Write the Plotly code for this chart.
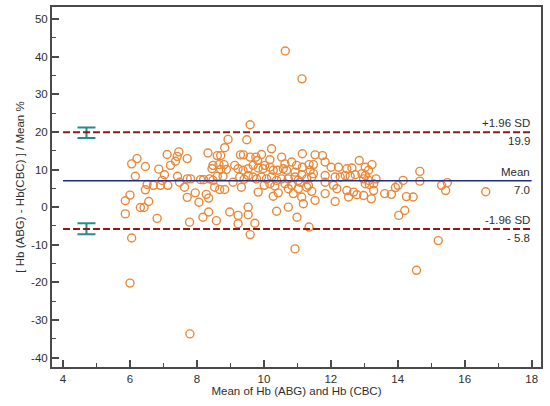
import plotly.graph_objects as go

# Bland-Altman: mean of Hb (ABG) and Hb (CBC) vs % difference
mean_hb = [
    6.05, 6.21, 6.16, 6.46, 6.0, 5.86, 5.86, 6.05, 6.31, 6.42, 6.56, 6.46, 6.51, 6.7, 6.91,
    7.13, 6.96, 7.03, 6.86, 7.21, 7.11, 7.36, 7.41, 7.46, 7.71, 7.42, 7.48, 7.63, 7.71, 7.81,
    7.71, 7.95, 8.06, 6.81, 7.78, 8.18, 8.11, 8.2, 6.0, 7.79,
    9.59, 9.49, 8.93, 8.83, 8.33, 8.61, 8.71, 9.30, 9.39, 9.59, 9.76, 9.93, 10.23, 10.53, 10.18,
    9.81, 8.48, 8.66, 8.81, 8.45, 8.71, 8.88, 9.13, 9.23, 9.38, 9.53, 9.68, 9.83, 9.98, 10.03,
    10.18, 10.28, 10.41, 10.58, 8.38, 8.48, 8.61, 8.78, 9.08, 9.28, 9.41, 9.53, 9.68, 9.78, 9.93,
    10.08, 10.23, 10.38, 10.53, 8.53, 8.68, 8.83, 8.28, 8.35, 9.33, 9.83, 10.01, 10.18, 10.33, 10.28,
    10.43, 8.35, 8.58, 8.98, 9.23, 9.23, 9.53, 9.53, 9.73, 9.59, 10.38,
    10.93, 11.35, 10.99, 10.73, 11.15, 11.53, 11.75, 10.63, 10.83, 10.98, 11.15, 11.35, 11.48, 11.83, 12.01,
    12.23, 12.48, 12.63, 12.85, 13.03, 10.68, 10.93, 11.13, 11.38, 11.48, 10.93, 10.73, 11.03, 11.28, 11.43,
    11.83, 12.13, 12.28, 12.43, 12.58, 12.73, 12.93, 13.03, 10.63, 10.83, 11.08, 11.33, 10.73, 11.03, 11.28,
    11.43, 10.88, 11.13, 11.18, 11.53, 11.83, 12.08, 12.18, 11.83, 12.13, 12.48, 12.53, 12.78, 12.98, 12.68,
    13.23, 13.13, 12.98, 13.13, 13.35, 13.03, 13.15, 13.28, 13.28, 13.21, 13.61, 13.81, 13.93, 14.01, 14.16,
    14.26, 14.46, 14.21, 14.03, 14.66, 14.66, 15.31, 15.48, 15.43, 16.63, 15.21, 14.56,
    10.64, 11.14,
]
diff_pct = [
    11.5, 12.9, 8.2, 10.8, 3.2, 1.7, -1.8, -8.2, -0.1, -0.1, 1.5, 4.6, 6.0, 5.8, 5.8,
    5.8, 7.1, 8.6, 10.1, 11.1, 14.0, 12.2, 13.5, 14.7, 12.9, 8.2, 6.6, 5.3, 7.5, 7.5,
    2.6, 3.8, 1.3, -3.0, -4.0, -2.7, 7.3, 7.3, -20.2, -33.7,
    21.9, 17.9, 18.0, 15.8, 14.4, 13.7, 13.7, 13.9, 13.9, 13.3, 13.3, 14.0, 15.5, 13.3, 12.6,
    12.4, 11.1, 11.3, 11.3, 10.2, 10.0, 10.0, 11.1, 10.2, 9.8, 10.2, 11.1, 10.4, 10.2, 11.1,
    10.6, 9.8, 9.8, 10.2, 7.5, 7.1, 8.2, 8.2, 6.6, 8.0, 7.4, 8.4, 8.0, 7.5, 8.0,
    7.5, 8.0, 7.1, 7.5, 5.3, 4.7, 4.7, 3.4, 2.4, 5.3, 4.0, 5.8, 6.2, 5.6, 2.9,
    3.8, -1.3, -3.6, -1.3, -2.2, -4.4, 0.0, -2.0, -4.3, -7.3, -1.1,
    -11.1, -5.3, -2.7, 0.0, 14.2, 13.9, 13.7, 11.5, 12.0, 11.1, 10.6, 11.3, 11.3, 12.0, 10.6,
    10.6, 10.2, 10.4, 12.4, 10.6, 9.8, 9.3, 8.6, 9.8, 8.9, 8.0, 7.5, 7.1, 7.5, 8.0,
    8.4, 8.0, 8.0, 8.4, 8.2, 8.6, 8.9, 8.4, 6.2, 5.8, 6.6, 5.8, 4.9, 4.9, 5.3,
    4.2, 3.6, 2.7, 0.9, 1.8, 6.6, 5.8, 4.9, 3.6, 1.5, 4.4, 2.7, 3.3, 3.1, 4.0,
    11.3, 9.8, 7.5, 7.1, 7.5, 6.2, 6.0, 6.2, 4.4, 2.2, 3.6, 3.4, 5.2, 5.8, 7.1,
    2.8, 2.7, -0.9, -2.2, 9.5, 6.9, 5.8, 6.5, 4.4, 4.1, -8.9, -16.8,
    41.5, 34.1,
]

bias = 7.0
upper_loa = 19.9
lower_loa = -5.8
# confidence intervals of the limits of agreement
upper_ci = [18.4, 21.2]
lower_ci = [-7.2, -4.3]
ci_x = 4.7

y_ticks = [-40, -30, -20, -10, 0, 10, 20, 30, 40, 50]
x_ticks = [4, 6, 8, 10, 12, 14, 16, 18]

text_col = "#2e2e2e"
axis_col = "#4a4a4a"
red = "#8b1a1a"
navy = "#232a8c"
teal = "#2a8a88"

fig = go.Figure()

fig.add_trace(go.Scatter(
    x=mean_hb, y=diff_pct, mode="markers",
    marker=dict(symbol="circle-open", size=8, color="#e8893a", line=dict(width=1.4)),
    showlegend=False,
))

# CI error bars on the limits
for lo, hi in [upper_ci, lower_ci]:
    mid = (lo + hi) / 2
    fig.add_trace(go.Scatter(
        x=[ci_x], y=[mid], mode="markers",
        marker=dict(size=1, color="rgba(0,0,0,0)"),
        error_y=dict(type="data", symmetric=False, array=[hi - mid], arrayminus=[mid - lo],
                     color=teal, thickness=2, width=9),
        showlegend=False,
    ))

fig.add_shape(type="line", x0=4, x1=18, y0=upper_loa, y1=upper_loa,
              line=dict(color=red, width=2, dash="7px,3px"))
fig.add_shape(type="line", x0=4, x1=18, y0=lower_loa, y1=lower_loa,
              line=dict(color=red, width=2, dash="7px,3px"))
fig.add_shape(type="line", x0=4, x1=18, y0=bias, y1=bias,
              line=dict(color=navy, width=1.6))

labels = [
    (upper_loa, "+1.96 SD", "%.1f" % upper_loa),
    (bias, "Mean", "%.1f" % bias),
    (lower_loa, "-1.96 SD", "- %.1f" % abs(lower_loa)),
]
for yv, above, below in labels:
    fig.add_annotation(x=18, y=yv, text=above, showarrow=False, xanchor="right",
                       yanchor="bottom", yshift=1, font=dict(size=11.5, color=text_col))
    fig.add_annotation(x=18, y=yv, text=below, showarrow=False, xanchor="right",
                       yanchor="top", yshift=-1, font=dict(size=11.5, color=text_col))

fig.update_xaxes(
    range=[3.67, 18.28], tickvals=x_ticks, ticktext=[str(v) for v in x_ticks],
    showgrid=False, zeroline=False, showline=True, linecolor=axis_col, linewidth=2, mirror=True,
    ticks="inside", ticklen=7, tickwidth=1.5, tickcolor=axis_col,
    minor=dict(ticks="inside", ticklen=4, tickwidth=1.2, tickcolor=axis_col, dtick=1, tick0=0),
    tickfont=dict(size=11.5, color=text_col), automargin=False,
    title=dict(text="Mean of Hb (ABG) and Hb (CBC)", font=dict(size=11.5, color=text_col), standoff=3),
)
fig.update_yaxes(
    range=[-42.5, 53.2], tickvals=y_ticks, ticktext=[str(v) for v in y_ticks],
    showgrid=False, zeroline=False, showline=True, linecolor=axis_col, linewidth=2, mirror=True,
    ticks="inside", ticklen=7, tickwidth=1.5, tickcolor=axis_col,
    minor=dict(ticks="inside", ticklen=4, tickwidth=1.2, tickcolor=axis_col, dtick=5, tick0=0),
    tickfont=dict(size=11.5, color=text_col), automargin=False,
    title=dict(text="[ Hb (ABG) - Hb(CBC) ] / Mean %", font=dict(size=11.5, color=text_col), standoff=4),
)

fig.update_layout(
    width=550, height=406,
    margin=dict(l=52, r=9, t=7, b=39),
    paper_bgcolor="white", plot_bgcolor="white",
    font=dict(family="Liberation Sans, Arial, sans-serif", color=text_col),
)

# drop the default page margin so the figure sits at the window's corner
fig.write_html("out.html", config={"displayModeBar": False},
               post_script="document.body.style.margin='0px';")
